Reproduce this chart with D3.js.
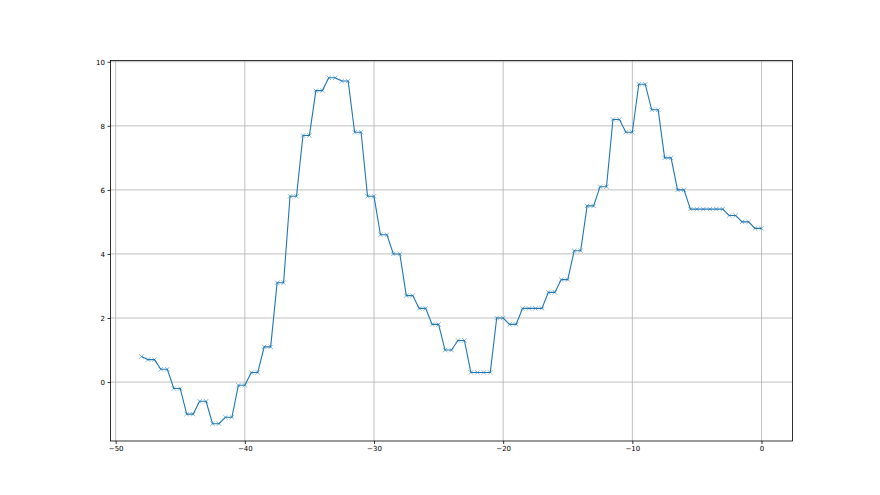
<!DOCTYPE html>
<html>
<head>
<meta charset="utf-8">
<script src="https://cdn.jsdelivr.net/npm/d3@7"></script>
<style>
  html, body { margin: 0; padding: 0; background: #fff; }
  svg { display: block; }
</style>
</head>
<body>
<svg id="chart" width="880" height="495"></svg>
<script>
const xValues = [-48, -47.5, -47, -46.5, -46, -45.5, -45, -44.5, -44, -43.5, -43, -42.5, -42, -41.5, -41, -40.5, -40,
  -39.5, -39, -38.5, -38, -37.5, -37, -36.5, -36, -35.5, -35, -34.5, -34, -33.5, -33, -32.5, -32, -31.5, -31, -30.5, -30,
  -29.5, -29, -28.5, -28, -27.5, -27, -26.5, -26, -25.5, -25, -24.5, -24, -23.5, -23, -22.5, -22, -21.5, -21, -20.5, -20,
  -19.5, -19, -18.5, -18, -17.5, -17, -16.5, -16, -15.5, -15, -14.5, -14, -13.5, -13, -12.5, -12, -11.5, -11, -10.5, -10,
  -9.5, -9, -8.5, -8, -7.5, -7, -6.5, -6, -5.5, -5, -4.5, -4, -3.5, -3, -2.5, -2, -1.5, -1, -0.5, 0];
const yValues = [0.8, 0.7, 0.7, 0.4, 0.4, -0.2, -0.2, -1.0, -1.0, -0.6, -0.6, -1.3, -1.3, -1.1, -1.1, -0.1, -0.1,
  0.3, 0.3, 1.1, 1.1, 3.1, 3.1, 5.8, 5.8, 7.7, 7.7, 9.1, 9.1, 9.5, 9.5, 9.4, 9.4, 7.8, 7.8, 5.8, 5.8,
  4.6, 4.6, 4.0, 4.0, 2.7, 2.7, 2.3, 2.3, 1.8, 1.8, 1.0, 1.0, 1.3, 1.3, 0.3, 0.3, 0.3, 0.3, 2.0, 2.0,
  1.8, 1.8, 2.3, 2.3, 2.3, 2.3, 2.8, 2.8, 3.2, 3.2, 4.1, 4.1, 5.5, 5.5, 6.1, 6.1, 8.2, 8.2, 7.8, 7.8,
  9.3, 9.3, 8.5, 8.5, 7.0, 7.0, 6.0, 6.0, 5.4, 5.4, 5.4, 5.4, 5.4, 5.4, 5.2, 5.2, 5.0, 5.0, 4.8, 4.8];
const xTicks = [-50, -40, -30, -20, -10, 0];
const yTicks = [0, 2, 4, 6, 8, 10];

(function () {
const data = xValues.map((xv, i) => ({ x: xv, y: yValues[i] }));

const pL = 110.5, pR = 792.5, pT = 60.5, pB = 441;
const svg = d3.select("#chart");

const x = d3.scaleLinear().domain([-50.4, 2.4]).range([pL, pR]);
const y = d3.scaleLinear().domain([-1.84, 10.04]).range([pB, pT]);

const fmt = d => (d < 0 ? "\u2212" + Math.abs(d) : String(d));

// grid
const grid = svg.append("g");
grid.selectAll(".gx").data(xTicks).join("line")
  .attr("x1", d => x(d)).attr("x2", d => x(d))
  .attr("y1", pT).attr("y2", pB)
  .attr("stroke", "#b0b0b0").attr("stroke-width", 0.8);
grid.selectAll(".gy").data(yTicks).join("line")
  .attr("x1", pL).attr("x2", pR)
  .attr("y1", d => y(d)).attr("y2", d => y(d))
  .attr("stroke", "#b0b0b0").attr("stroke-width", 0.8);

// line
const line = d3.line().x(d => x(d.x)).y(d => y(d.y));
svg.append("path").datum(data)
  .attr("fill", "none").attr("stroke", "#1f77b4").attr("stroke-width", 1.1)
  .attr("d", line);

// x markers
const ms = 2.2;
svg.append("g").selectAll("path").data(data).join("path")
  .attr("d", d => {
    const cx = x(d.x), cy = y(d.y);
    return `M${cx - ms},${cy - ms}L${cx + ms},${cy + ms}M${cx - ms},${cy + ms}L${cx + ms},${cy - ms}`;
  })
  .attr("stroke", "#1f77b4").attr("stroke-width", 0.7).attr("stroke-opacity", 0.75).attr("fill", "none");

// axes
const xAxis = d3.axisBottom(x).tickValues(xTicks).tickFormat(fmt).tickSize(3).tickPadding(2);
const yAxis = d3.axisLeft(y).tickValues(yTicks).tickFormat(fmt).tickSize(3).tickPadding(2.5);

const gx = svg.append("g").attr("transform", `translate(0,${pB})`).call(xAxis);
const gy = svg.append("g").attr("transform", `translate(${pL},0)`).call(yAxis);
[gx, gy].forEach(g => {
  g.select(".domain").remove();
  g.selectAll("line").attr("stroke", "#000").attr("stroke-width", 0.8);
  g.selectAll("text").attr("fill", "#000").style("font-family", "DejaVu Sans").style("font-size", "7px");
});

// frame
svg.append("rect")
  .attr("x", pL).attr("y", pT)
  .attr("width", pR - pL).attr("height", pB - pT)
  .attr("fill", "none").attr("stroke", "#000").attr("stroke-width", 0.8);
})();
</script>
</body>
</html>
